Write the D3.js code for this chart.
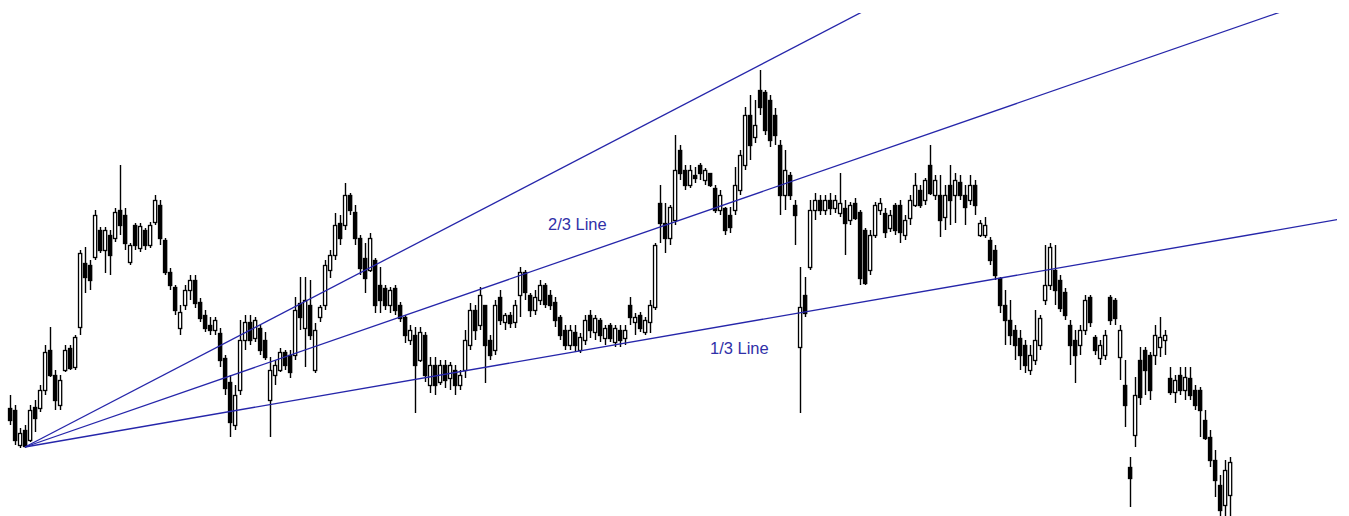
<!DOCTYPE html>
<html>
<head>
<meta charset="utf-8">
<script src="https://cdn.jsdelivr.net/npm/d3@7"></script>
<style>
  html, body { margin: 0; padding: 0; background: #ffffff; }
  svg { display: block; }
</style>
</head>
<body>
<svg id="chart" width="1349" height="516"></svg>
<script>
// OHLC candles: [open, high, low, close] (price units)
const candles = [
  [92,105,75,80],[90,95,55,60],[55,72,52,67],[70,75,52,54],[60,95,58,90],
  [93,100,68,82],[92,115,88,110],[110,155,105,148],[150,173,123,125],[125,130,90,100],
  [95,125,90,120],[130,155,128,150],[152,155,130,132],[133,165,130,163],[173,250,165,247],
  [237,253,207,223],[235,240,210,220],[243,290,240,285],[270,273,247,250],[250,273,227,270],
  [265,270,225,245],[262,292,258,288],[290,335,265,275],[285,292,250,257],[238,257,235,255],
  [275,277,250,255],[252,277,248,274],[270,272,250,255],[255,278,252,275],[278,305,275,300],
  [295,300,255,262],[260,262,225,228],[228,232,210,215],[213,215,185,190],[172,195,165,188],
  [195,215,190,210],[210,225,200,220],[220,225,192,197],[198,202,178,182],[185,190,168,172],
  [175,183,165,170],[170,183,165,180],[167,172,133,140],[142,145,105,112],[118,125,63,78],
  [75,115,70,105],[110,180,105,160],[160,185,150,178],[178,185,155,160],[162,183,158,180],
  [172,175,145,150],[160,168,140,143],[100,143,63,130],[125,140,115,135],[130,152,128,148],
  [148,150,130,135],[145,150,122,128],[145,203,140,190],[197,223,170,183],[172,223,133,200],
  [195,220,160,165],[130,177,127,170],[183,195,178,193],[195,240,190,235],[230,250,222,245],
  [245,287,240,275],[277,285,255,262],[275,317,270,305],[305,307,285,290],[288,295,255,262],
  [262,265,225,232],[242,257,207,222],[230,267,228,262],[240,242,187,195],[215,233,187,200],
  [212,215,190,195],[195,213,187,210],[212,215,185,190],[195,198,178,182],[183,185,157,165],
  [160,175,155,170],[165,173,87,135],[140,173,138,168],[165,168,118,125],[115,143,107,135],
  [135,143,105,115],[118,140,115,135],[135,140,112,120],[122,138,110,135],[130,135,105,115],
  [115,130,110,125],[130,170,122,160],[155,197,150,190],[190,195,160,170],[175,213,170,205],
  [195,195,117,155],[160,165,140,145],[150,200,145,195],[203,210,175,180],[178,187,170,185],
  [185,188,172,177],[178,200,172,195],[205,233,183,228],[228,230,200,208],[205,207,183,190],
  [190,210,185,203],[200,220,195,215],[215,217,192,196],[205,210,190,195],[198,203,173,180],
  [183,185,160,165],[170,175,150,155],[155,175,150,170],[168,175,148,155],[150,167,147,163],
  [160,185,155,180],[185,190,162,170],[168,185,160,182],[180,182,158,165],[162,175,155,172],
  [175,177,158,162],[158,175,153,172],[170,175,153,160],[162,175,155,170],[195,203,175,183],
  [178,187,165,183],[185,188,168,172],[168,183,165,180],[178,200,167,195],[193,257,190,255],
  [297,315,257,277],[277,297,247,262],[262,295,255,293],[280,365,275,330],[350,355,320,327],
  [330,335,310,315],[315,335,312,330],[325,333,317,322],[335,337,320,327],[320,332,315,330],
  [327,327,313,315],[312,315,287,290],[290,310,285,305],[292,293,265,270],[285,293,267,273],
  [290,333,285,315],[310,350,305,345],[335,393,330,385],[385,405,340,355],[363,400,357,375],
  [410,430,385,393],[408,410,365,370],[400,405,353,360],[385,392,355,365],[355,360,285,305],
  [305,350,290,330],[325,328,300,305],[295,300,255,285],[153,233,87,193],[205,223,183,187],
  [233,300,230,290],[290,307,280,300],[300,305,285,290],[290,305,285,300],[300,307,285,292],
  [292,305,287,300],[287,327,283,297],[292,300,245,277],[280,298,275,295],[297,302,280,282],
  [288,290,215,222],[270,272,215,217],[230,270,225,265],[265,298,262,295],[290,302,285,297],
  [287,292,262,268],[272,290,268,285],[295,297,265,270],[295,300,257,268],[265,285,260,280],
  [282,305,275,300],[295,327,293,315],[310,315,292,295],[300,322,295,320],[335,355,305,307],
  [305,325,300,320],[305,325,263,280],[283,315,270,305],[315,335,275,300],[305,327,277,320],
  [318,325,300,305],[305,315,275,293],[300,325,295,315],[315,320,285,295],[265,280,263,277],
  [265,283,262,275],[260,263,235,240],[250,255,220,225],[222,223,187,195],[195,210,155,180],
  [180,200,155,165],[170,175,140,155],[162,170,130,145],[155,160,127,135],[130,155,125,145],
  [140,190,135,160],[155,185,150,182],[200,255,195,215],[215,257,210,253],[230,255,195,210],
  [220,225,188,192],[208,212,180,185],[175,180,135,155],[160,170,117,145],[155,175,145,170],
  [170,205,165,200],[203,205,173,178],[163,165,145,150],[142,160,135,155],[145,170,140,165],
  [203,205,175,180],[200,202,175,182],[143,175,120,170],[115,140,73,95],[33,43,-7,22],
  [65,123,53,105],[140,153,95,103],[150,153,105,130],[145,148,100,110],[145,175,135,165],
  [153,183,143,163],[160,170,145,165],[122,133,105,108],[108,125,97,120],[125,133,105,110],
  [110,133,100,123],[122,133,100,105],[110,115,90,95],[110,113,63,90],[80,90,60,62],
  [63,70,33,40],[40,50,3,20],[15,25,-16,-10],[-5,40,-16,30],[5,43,-16,38]
];

// Speed resistance lines: anchor low and high, and the fractions drawn
const anchorLow = { index: 3, price: 53 };
const anchorHigh = { index: 150, price: 435 };
const fractions = [1, 2 / 3, 1 / 3];
const lineLabels = [
  { text: "2/3 Line", index: 107.6, price: 270 },
  { text: "1/3 Line", index: 140, price: 146 }
];

const W = 1349, H = 516;
const svg = d3.select("#chart");
svg.append("rect").attr("width", W).attr("height", H).attr("fill", "#ffffff");

const x = d3.scaleLinear().domain([0, candles.length - 1]).range([10, 1230]);
const y = d3.scaleLinear().domain([0, 500]).range([500, 0]);

const plotTop = 13, plotRight = 1337;
svg.append("defs").append("clipPath").attr("id", "plotclip")
  .append("rect").attr("x", 0).attr("y", plotTop).attr("width", plotRight).attr("height", H - plotTop);

const g = svg.append("g").attr("clip-path", "url(#plotclip)");

// candles
const cg = g.append("g");
candles.forEach((d, i) => {
  const [o, h, l, c] = d;
  const cx = Math.round(x(i)) + 0.5;
  cg.append("line")
    .attr("x1", cx).attr("x2", cx)
    .attr("y1", Math.round(y(h))).attr("y2", Math.round(y(l)))
    .attr("stroke", "#000").attr("stroke-width", 1.4);
  const top = Math.round(y(Math.max(o, c))) + 0.5;
  const bot = Math.round(y(Math.min(o, c))) + 0.5;
  const up = c >= o;
  cg.append("rect")
    .attr("x", cx - 2).attr("width", 3.2)
    .attr("y", top).attr("height", Math.max(1, bot - top))
    .attr("fill", up ? "#ffffff" : "#000000")
    .attr("stroke", "#000").attr("stroke-width", 1.3);
});

// speed lines
const lg = g.append("g");
const x0 = x(anchorLow.index), y0 = y(anchorLow.price);
const slopePerIndex = (anchorHigh.price - anchorLow.price) / (anchorHigh.index - anchorLow.index);
const farIndex = x.invert(plotRight + 5);
fractions.forEach(f => {
  const p = anchorLow.price + slopePerIndex * f * (farIndex - anchorLow.index);
  lg.append("line")
    .attr("x1", x0).attr("y1", y0)
    .attr("x2", x(farIndex)).attr("y2", y(p))
    .attr("stroke", "#2626aa").attr("stroke-width", 1.3);
});

// labels
lineLabels.forEach(lb => {
  svg.append("text")
    .attr("x", x(lb.index)).attr("y", y(lb.price))
    .attr("font-family", "Liberation Sans, Arial, sans-serif")
    .attr("font-size", 16.5)
    .attr("fill", "#3030a8")
    .text(lb.text);
});
</script>
</body>
</html>
